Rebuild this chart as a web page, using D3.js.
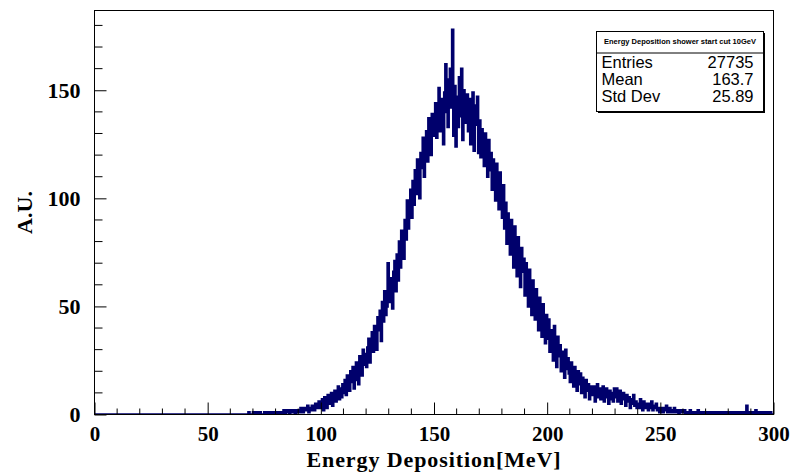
<!DOCTYPE html>
<html>
<head>
<meta charset="utf-8">
<script src="https://cdn.jsdelivr.net/npm/d3@7/dist/d3.min.js"></script>
<style>
  html, body { margin: 0; padding: 0; background: #ffffff; }
  svg { display: block; }
</style>
</head>
<body>
<svg id="chart" width="790" height="472"></svg>
<script>
// Energy deposition histogram: 0.5 MeV bins from 0 to 300 MeV (one row = 10 MeV)
const binWidth = 0.5;
const xRange = [0, 300];
const counts = [
  0,0,0,0,0,0,0,0,0,0, 0,0,0,0,0,0,0,0,0,0,
  0,0,0,0,0,0,0,0,0,0, 0,0,0,0,0,0,0,0,0,0,
  0,0,0,0,0,0,0,0,0,0, 0,0,0,0,0,0,0,0,0,0,
  0,0,0,0,0,0,0,0,0,0, 0,0,0,0,0,0,0,0,0,0,
  0,0,0,0,0,0,0,0,0,0, 0,0,0,0,0,0,0,0,0,0,
  0,0,0,0,0,0,0,0,0,0, 0,0,0,0,0,0,0,0,0,0,
  0,0,0,0,0,0,0,0,0,0, 0,0,0,0,0,0,1,0,0,0,
  1,0,0,1,0,1,1,0,0,0, 1,0,1,0,0,1,0,0,1,0,
  1,0,1,1,0,0,1,2,0,1, 2,1,0,2,1,1,2,0,1,2,
  2,1,3,2,1,3,2,2,4,1, 3,2,4,3,2,5,3,4,6,3,
  4,7,2,8,6,3,9,5,7,10, 4,8,11,6,9,13,7,12,8,14,
  10,16,9,18,13,11,20,15,22,12, 19,24,16,14,27,21,18,30,23,28,
  22,31,35,24,33,38,29,41,36,30, 45,39,48,34,52,43,57,46,50,70,
  52,63,58,49,66,71,57,74,62,80, 68,85,76,72,90,81,99,86,94,104,
  91,108,97,113,102,118,109,100,121,114, 128,110,124,131,117,137,126,120,139,129,
  134,144,128,139,151,131,146,137,125,149, 162,140,133,155,160,142,178,129,152,124,
  147,133,156,138,160,127,150,141,135,148, 131,146,125,139,149,122,143,134,147,121,
  136,119,132,126,115,130,122,110,127,113, 121,104,118,109,99,116,106,95,112,101,
  91,106,86,98,79,93,84,74,90,81, 68,87,75,64,82,71,59,77,66,72,
  55,70,61,50,67,57,46,62,53,44, 58,48,39,54,45,36,51,41,33,46,
  35,44,29,39,33,25,41,30,22,36, 27,32,20,29,24,17,30,21,26,19,
  15,24,18,13,22,16,11,20,14,19, 10,17,12,8,16,11,14,7,13,10,
  9,13,6,11,14,8,12,7,10,13, 6,9,12,8,5,11,7,10,6,12,
  8,12,6,9,11,5,8,10,7,4, 9,6,8,3,7,5,9,4,6,3,
  5,3,7,4,2,6,3,5,4,2, 5,3,6,2,4,3,5,2,3,1,
  3,2,1,3,2,4,1,2,3,1, 2,1,3,2,1,2,0,1,2,1,
  1,2,0,1,1,0,2,1,0,1, 1,0,1,2,0,1,0,1,1,0,
  1,0,0,1,0,1,1,0,0,1, 0,1,0,0,1,0,1,0,0,1,
  0,1,0,0,1,0,0,1,0,1, 0,0,1,0,0,1,4,0,0,1,
  0,1,0,0,2,0,1,0,0,1, 0,1,0,0,1,0,0,1,0,0
];

const xTickValues = [0, 50, 100, 150, 200, 250, 300];
const yTickValues = [0, 50, 100, 150];

const statsTitle = "Energy Deposition shower start cut 10GeV";
const statsNames = ["Entries", "Mean", "Std Dev"];
const statsValues = ["27735", "163.7", "25.89"];

const xTitle = "Energy Deposition[MeV]";
const yTitle = "A.U.";

// Layout
const frame = { left: 94.5, right: 773.5, top: 10.5, bottom: 414.5 };
const lineColor = "#00006c";
const serif = "'Liberation Serif', 'Times New Roman', serif";
const sans = "'Liberation Sans', Arial, Helvetica, sans-serif";

const svg = d3.select("#chart");

const x = d3.scaleLinear().domain(xRange).range([frame.left, frame.right]);
const yMax = d3.max(counts) * 1.05;
const y = d3.scaleLinear().domain([0, yMax]).range([frame.bottom, frame.top]);

// Histogram outline as steps over the bin edges
const steps = counts.map((c, i) => ({ e: xRange[0] + i * binWidth, c }));
steps.push({ e: xRange[0] + counts.length * binWidth, c: counts[counts.length - 1] });

svg.append("clipPath").attr("id", "plotClip")
  .append("rect")
  .attr("x", frame.left).attr("y", frame.top - 1)
  .attr("width", frame.right - frame.left)
  .attr("height", frame.bottom - frame.top + 1);

const stepLine = d3.line()
  .x(d => x(d.e))
  .y(d => y(d.c))
  .curve(d3.curveStepAfter);

svg.append("path")
  .datum(steps)
  .attr("clip-path", "url(#plotClip)")
  .attr("fill", "none")
  .attr("stroke", lineColor)
  .attr("stroke-width", 2.5)
  .attr("stroke-linejoin", "miter")
  .attr("d", stepLine);

// Frame
svg.append("rect")
  .attr("x", frame.left).attr("y", frame.top)
  .attr("width", frame.right - frame.left)
  .attr("height", frame.bottom - frame.top)
  .attr("fill", "none")
  .attr("stroke", "#000")
  .attr("stroke-width", 1);

// X axis: major ticks every 50, minor every 10, pointing into the frame
const xAxis = d3.axisBottom(x)
  .tickValues(xTickValues)
  .tickSizeInner(-12)
  .tickSizeOuter(0)
  .tickPadding(12)
  .tickFormat(d3.format("d"));
const gx = svg.append("g").attr("transform", `translate(0,${frame.bottom})`).call(xAxis);
gx.select(".domain").remove();
gx.selectAll(".tick line").attr("stroke", "#000");
gx.selectAll(".tick text")
  .attr("font-family", serif).attr("font-weight", "bold")
  .attr("font-size", 21).attr("fill", "#000");

const xMinor = d3.range(0, 301, 10).filter(v => v % 50 !== 0);
svg.append("g").selectAll("line").data(xMinor).join("line")
  .attr("x1", d => x(d)).attr("x2", d => x(d))
  .attr("y1", frame.bottom).attr("y2", frame.bottom - 6)
  .attr("stroke", "#000");

// Y axis: labelled every 50, minor ticks every 10
const yAxis = d3.axisLeft(y)
  .tickValues(yTickValues)
  .tickSizeInner(-12)
  .tickSizeOuter(0)
  .tickPadding(14)
  .tickFormat(d3.format("d"));
const gy = svg.append("g").attr("transform", `translate(${frame.left},0)`).call(yAxis);
gy.select(".domain").remove();
gy.selectAll(".tick line").attr("stroke", "#000");
gy.selectAll(".tick text")
  .attr("font-family", serif).attr("font-weight", "bold")
  .attr("font-size", 22).attr("fill", "#000");

const yMinor = d3.range(0, yMax, 10).filter(v => v % 50 !== 0);
svg.append("g").selectAll("line").data(yMinor).join("line")
  .attr("x1", frame.left).attr("x2", frame.left + 8)
  .attr("y1", d => y(d)).attr("y2", d => y(d))
  .attr("stroke", "#000");

// Axis titles
svg.append("text")
  .attr("x", (frame.left + frame.right) / 2)
  .attr("y", 467)
  .attr("text-anchor", "middle")
  .attr("font-family", serif).attr("font-weight", "bold")
  .attr("font-size", 22)
  .attr("letter-spacing", 0.9)
  .text(xTitle);

svg.append("text")
  .attr("transform", `translate(32,${(frame.top + frame.bottom) / 2}) rotate(-90)`)
  .attr("text-anchor", "middle")
  .attr("font-family", serif).attr("font-weight", "bold")
  .attr("font-size", 22)
  .text(yTitle);

// Statistics box
const box = { x: 596.5, y: 31.5, w: 167, h: 80, titleH: 21.5 };
const gs = svg.append("g");
gs.append("rect")
  .attr("x", box.x + 1.5).attr("y", box.y + 1.5)
  .attr("width", box.w).attr("height", box.h)
  .attr("fill", "#000");
gs.append("rect")
  .attr("x", box.x).attr("y", box.y)
  .attr("width", box.w).attr("height", box.h)
  .attr("fill", "#fff").attr("stroke", "#000").attr("stroke-width", 1);
gs.append("line")
  .attr("x1", box.x).attr("x2", box.x + box.w)
  .attr("y1", box.y + box.titleH).attr("y2", box.y + box.titleH)
  .attr("stroke", "#000");
gs.append("text")
  .attr("x", box.x + box.w / 2).attr("y", box.y + 12)
  .attr("text-anchor", "middle")
  .attr("font-family", sans).attr("font-size", 7.5).attr("font-weight", "bold")
  .attr("textLength", 152).attr("lengthAdjust", "spacingAndGlyphs")
  .text(statsTitle);

const rowY = [67.5, 84.5, 101.5];
gs.selectAll("text.name").data(statsNames).join("text")
  .attr("class", "name")
  .attr("x", box.x + 5).attr("y", (d, i) => rowY[i])
  .attr("font-family", sans).attr("font-size", 16.5)
  .text(d => d);
gs.selectAll("text.val").data(statsValues).join("text")
  .attr("class", "val")
  .attr("x", box.x + box.w - 10).attr("y", (d, i) => rowY[i])
  .attr("text-anchor", "end")
  .attr("font-family", sans).attr("font-size", 16.5)
  .text(d => d);
</script>
</body>
</html>
